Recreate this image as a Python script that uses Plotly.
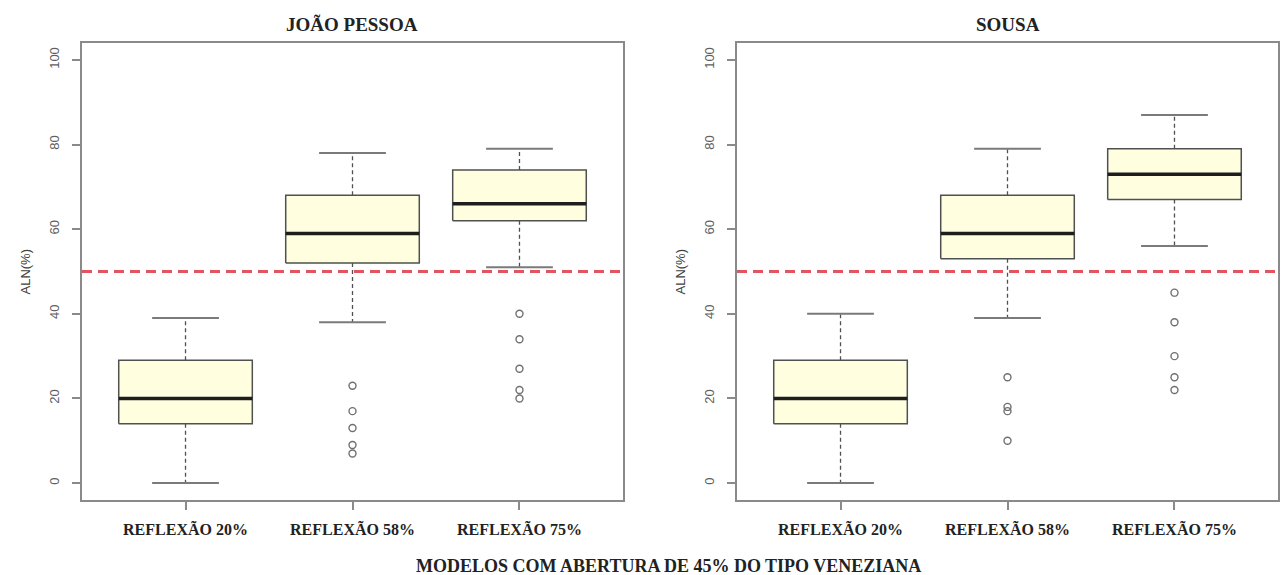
import plotly.graph_objects as go

# Category labels shared by both panels
groups = ["REFLEXÃO 20%", "REFLEXÃO 58%", "REFLEXÃO 75%"]

# João Pessoa box statistics (ALN %)
jp_lower = [0, 38, 51]
jp_q1 = [14, 52, 62]
jp_median = [20, 59, 66]
jp_q3 = [29, 68, 74]
jp_upper = [39, 78, 79]
jp_outliers = [[], [23, 17, 13, 9, 7], [40, 34, 27, 22, 20]]

# Sousa box statistics (ALN %)
so_lower = [0, 39, 56]
so_q1 = [14, 53, 67]
so_median = [20, 59, 73]
so_q3 = [29, 68, 79]
so_upper = [40, 79, 87]
so_outliers = [[], [25, 18, 17, 10], [45, 38, 30, 25, 22]]

y_ticks = [0, 20, 40, 60, 80, 100]
reference_level = 50

BOX_HALF = 0.4     # half box width in category units
CAP_HALF = 0.2     # half whisker-cap width
FILL = "#FFFFE0"
EDGE = "#505050"
FRAME = "#8a8a8a"
SERIF = "Liberation Serif"
SANS = "Liberation Sans"

W, H = 1281, 575
PLOT_TOP, PLOT_BOTTOM = 43, 500
panels = [
    dict(title="JOÃO PESSOA", left=82, right=623, xa="x", ya="y",
         lower=jp_lower, q1=jp_q1, med=jp_median, q3=jp_q3, upper=jp_upper, out=jp_outliers),
    dict(title="SOUSA", left=737, right=1278, xa="x2", ya="y2",
         lower=so_lower, q1=so_q1, med=so_median, q3=so_q3, upper=so_upper, out=so_outliers),
]

fig = go.Figure()


def add_boxes(p):
    xs_pos = list(range(1, len(groups) + 1))
    bx, by, mx, my, wx, wy, cx, cy, ox, oy = ([] for _ in range(10))
    for i, c in enumerate(xs_pos):
        l, r = c - BOX_HALF, c + BOX_HALF
        bx += [l, r, r, l, l, None]
        by += [p["q1"][i], p["q1"][i], p["q3"][i], p["q3"][i], p["q1"][i], None]
        mx += [l, r, None]
        my += [p["med"][i], p["med"][i], None]
        wx += [c, c, None, c, c, None]
        wy += [p["q3"][i], p["upper"][i], None, p["q1"][i], p["lower"][i], None]
        cx += [c - CAP_HALF, c + CAP_HALF, None, c - CAP_HALF, c + CAP_HALF, None]
        cy += [p["upper"][i], p["upper"][i], None, p["lower"][i], p["lower"][i], None]
        for v in p["out"][i]:
            ox.append(c)
            oy.append(v)
    common = dict(xaxis=p["xa"], yaxis=p["ya"], showlegend=False, hoverinfo="skip")
    # dashed whiskers
    fig.add_trace(go.Scatter(x=wx, y=wy, mode="lines",
                             line=dict(color=EDGE, width=1.3, dash="4px,3px"), **common))
    # whisker caps
    fig.add_trace(go.Scatter(x=cx, y=cy, mode="lines",
                             line=dict(color="#7a7a7a", width=2), **common))
    # boxes
    fig.add_trace(go.Scatter(x=bx, y=by, mode="lines", fill="toself", fillcolor=FILL,
                             line=dict(color=EDGE, width=1.5), **common))
    # medians
    fig.add_trace(go.Scatter(x=mx, y=my, mode="lines",
                             line=dict(color="#1e1e1e", width=3.5), **common))
    # outliers
    fig.add_trace(go.Scatter(x=ox, y=oy, mode="markers",
                             marker=dict(symbol="circle-open", size=7,
                                         color="#707070", line=dict(width=1.4)), **common))


for p in panels:
    add_boxes(p)

layout = dict(
    width=W, height=H, autosize=False,
    margin=dict(l=0, r=0, t=0, b=0),
    paper_bgcolor="white", plot_bgcolor="white",
    shapes=[], annotations=[],
)

y_dom = [(H - PLOT_BOTTOM) / H, (H - PLOT_TOP) / H]
for k, p in enumerate(panels):
    suffix = "" if k == 0 else "2"
    layout["xaxis" + suffix] = dict(
        domain=[p["left"] / W, p["right"] / W], range=[0.38, 3.62],
        anchor="y" + suffix,
        tickvals=[1, 2, 3], ticktext=["<b>%s</b>" % g for g in groups],
        tickfont=dict(family=SERIF, size=16, color="#222222"),
        ticks="outside", ticklen=8, tickcolor=FRAME, tickwidth=1.5,
        ticklabelstandoff=6,
        showline=True, mirror=True, linecolor=FRAME, linewidth=1.5,
        showgrid=False, zeroline=False, fixedrange=True,
    )
    layout["yaxis" + suffix] = dict(
        domain=y_dom, range=[-4, 104], anchor="x" + suffix,
        tickvals=y_ticks, ticktext=[str(v) for v in y_ticks], tickangle=-90,
        tickfont=dict(family=SANS, size=13, color="#606060"),
        ticks="outside", ticklen=8, tickcolor=FRAME, tickwidth=1.5,
        ticklabelstandoff=8,
        showline=True, mirror=True, linecolor=FRAME, linewidth=1.5,
        showgrid=False, zeroline=False, fixedrange=True,
    )
    # reference line at 50 %
    layout["shapes"].append(dict(
        type="line", xref="x%s domain" % suffix, yref="y" + suffix,
        x0=0, x1=1, y0=reference_level, y1=reference_level,
        line=dict(color="#E4545E", width=3, dash="10px,6px"), layer="above",
    ))
    # panel title
    layout["annotations"].append(dict(
        text="<b>%s</b>" % p["title"], xref="paper", yref="paper",
        x=(p["left"] + p["right"]) / 2 / W, y=(H - 24) / H,
        xanchor="center", yanchor="middle", showarrow=False,
        font=dict(family=SERIF, size=19, color="#222222"),
    ))
    # y axis title
    layout["annotations"].append(dict(
        text="ALN(%)", xref="paper", yref="paper",
        x=(p["left"] - 57) / W, y=(H - (PLOT_TOP + PLOT_BOTTOM) / 2) / H,
        xanchor="center", yanchor="middle", textangle=-90, showarrow=False,
        font=dict(family=SANS, size=13, color="#404040"),
    ))

# shared x title below both panels
layout["annotations"].append(dict(
    text="<b>MODELOS COM ABERTURA DE 45% DO TIPO VENEZIANA</b>",
    xref="paper", yref="paper", x=668 / W, y=(H - 566) / H,
    xanchor="center", yanchor="middle", showarrow=False,
    font=dict(family=SERIF, size=18, color="#222222"),
))

fig.update_layout(**layout)
fig.write_html("out.html")
